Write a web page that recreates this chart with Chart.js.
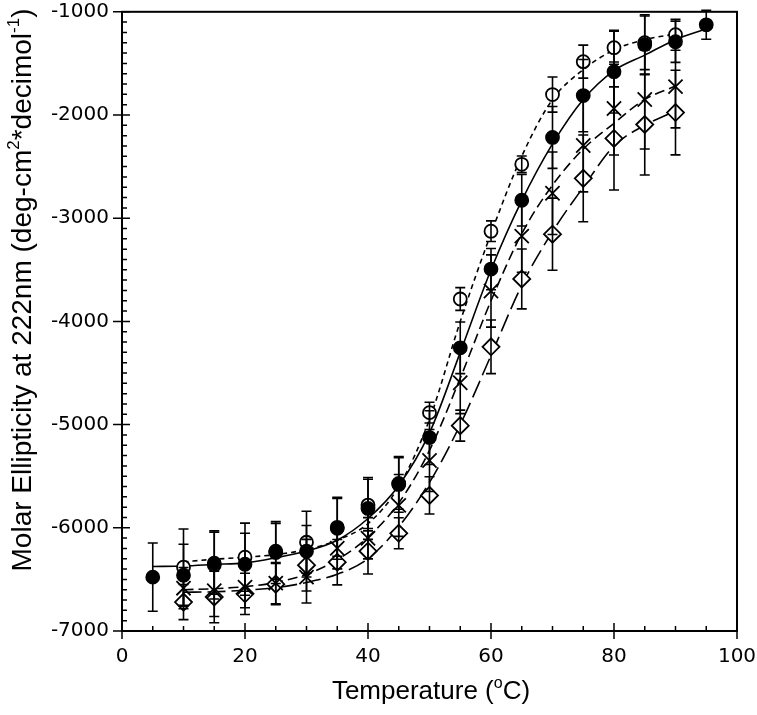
<!DOCTYPE html>
<html>
<head>
<meta charset="utf-8">
<script src="https://cdn.jsdelivr.net/npm/chart.js@4.4.1/dist/chart.umd.min.js"></script>
<style>
  html, body { margin: 0; padding: 0; background: #fff; }
</style>
</head>
<body>
<canvas id="myChart" width="757" height="715"></canvas>
<script>
// measured points (temperature in C, ellipticity, error)
const tempsFilled = [5, 10, 15, 20, 25, 30, 35, 40, 45, 50, 55, 60, 65, 70, 75, 80, 85, 90, 95];
const filledVals = [-6478, -6459, -6343, -6353, -6227, -6227, -6005, -5812, -5580, -5126, -4256, -3493, -2826, -2217, -1812, -1580, -1319, -1290, -1126];
const filledErr = [330, 300, 300, 300, 270, 250, 300, 300, 270, 260, 250, 200, 250, 300, 350, 400, 290, 200, 140];

const tempsOther = [10, 15, 20, 25, 30, 35, 40, 45, 50, 55, 60, 65, 70, 75, 80, 85, 90];
const openVals = [-6382, -6360, -6285, -6240, -6140, -5995, -5780, -5570, -4884, -3783, -3126, -2478, -1802, -1483, -1348, -1300, -1222];
const openErr = [370, 330, 330, 300, 300, 280, 250, 250, 100, 110, 100, 80, 170, 160, 160, 260, 150];
const crossVals = [-6585, -6610, -6575, -6536, -6478, -6198, -6101, -5783, -5348, -4594, -3705, -3174, -2758, -2295, -1937, -1850, -1725];
const crossErr = [200, 250, 200, 200, 250, 200, 200, 300, 300, 300, 350, 350, 400, 450, 450, 480, 400];
const diamondVals = [-6720, -6670, -6640, -6546, -6362, -6333, -6227, -6053, -5686, -5010, -4246, -3589, -3155, -2614, -2227, -2092, -1976];
const diamondErr = [170, 250, 200, 200, 250, 220, 220, 150, 180, 150, 260, 290, 350, 420, 500, 490, 410];

// fitted curves, every 5 degrees
const fitFilled = [-6375, -6370, -6355, -6340, -6290, -6225, -6120, -5910, -5590, -5080, -4300, -3500, -2830, -2280, -1850, -1570, -1420, -1270, -1165];
const fitOpen = [-6330, -6305, -6285, -6260, -6210, -6120, -5960, -5600, -4950, -4000, -3150, -2400, -1850, -1560, -1370, -1270, -1215];
const fitCross = [-6600, -6590, -6570, -6530, -6450, -6310, -6090, -5760, -5250, -4550, -3800, -3150, -2680, -2330, -2080, -1850, -1720];
const fitDiamond = [-6625, -6620, -6605, -6580, -6530, -6450, -6300, -5990, -5560, -5000, -4330, -3650, -3130, -2700, -2300, -2100, -1960];

const xMin = 0, xMax = 100, xMajor = 20, xMinor = 5;
const yMin = -7000, yMax = -1000, yMajor = 1000, yMinor = 100;

const tickFont = { family: "'DejaVu Sans', Verdana, sans-serif", size: 20 };

function pts(xs, ys) {
    return xs.map((x, i) => ({ x: x, y: ys[i] }));
}

function fitLine(xs, ys, dash) {
    return {
        data: pts(xs, ys),
        showLine: true,
        borderColor: "#000",
        borderWidth: 1.6,
        borderDash: dash,
        pointRadius: 0,
        cubicInterpolationMode: "monotone",
        fill: false,
        order: 2
    };
}

function markers(xs, ys, errs, style, radius, bg) {
    return {
        data: pts(xs, ys),
        errors: errs,
        showLine: false,
        pointStyle: style,
        pointRadius: radius,
        pointBorderWidth: 1.8,
        pointBorderColor: "#000",
        pointBackgroundColor: bg,
        order: 1
    };
}

const errorBars = {
    id: "errorBars",
    afterDatasetsDraw(chart) {
        const ctx = chart.ctx;
        const y = chart.scales.y;
        ctx.save();
        ctx.strokeStyle = "#000";
        ctx.lineWidth = 1.6;
        chart.data.datasets.forEach((ds, di) => {
            if (!ds.errors) return;
            const meta = chart.getDatasetMeta(di);
            meta.data.forEach((pt, i) => {
                const v = ds.data[i].y;
                const e = ds.errors[i];
                const top = y.getPixelForValue(v + e);
                const bot = y.getPixelForValue(v - e);
                ctx.beginPath();
                ctx.moveTo(pt.x, top);
                ctx.lineTo(pt.x, bot);
                ctx.moveTo(pt.x - 5, top);
                ctx.lineTo(pt.x + 5, top);
                ctx.moveTo(pt.x - 5, bot);
                ctx.lineTo(pt.x + 5, bot);
                ctx.stroke();
            });
        });
        ctx.restore();
    }
};

function drawRich(ctx, parts, size) {
    let w = 0;
    parts.forEach(p => {
        ctx.font = Math.round(p.sup ? size * 0.6 : size) + "px 'Liberation Sans', Arial, sans-serif";
        p.w = ctx.measureText(p.t).width;
        w += p.w;
    });
    let cx = -w / 2;
    parts.forEach(p => {
        ctx.font = Math.round(p.sup ? size * 0.6 : size) + "px 'Liberation Sans', Arial, sans-serif";
        ctx.fillText(p.t, cx, p.sup ? -size * 0.42 : 0);
        cx += p.w;
    });
}

const frame = {
    id: "frame",
    afterDraw(chart) {
        const { ctx, chartArea: a, scales: { x, y } } = chart;
        ctx.save();
        ctx.strokeStyle = "#000";
        ctx.lineWidth = 2;
        ctx.strokeRect(a.left, a.top, a.right - a.left, a.bottom - a.top);
        ctx.lineWidth = 1.5;
        ctx.beginPath();
        for (let v = xMin; v <= xMax; v += xMinor) {
            const px = x.getPixelForValue(v);
            const major = v % xMajor === 0;
            ctx.moveTo(px, a.bottom + (major ? 8 : 0));
            ctx.lineTo(px, a.bottom - (major ? 8 : 5));
        }
        for (let v = yMin; v <= yMax; v += yMinor) {
            const py = y.getPixelForValue(v);
            const major = v % yMajor === 0;
            ctx.moveTo(a.left - (major ? 9 : 0), py);
            ctx.lineTo(a.left + (major ? 8 : 5), py);
        }
        ctx.stroke();

        ctx.fillStyle = "#000";
        ctx.textBaseline = "alphabetic";
        ctx.save();
        ctx.translate(431, 699);
        drawRich(ctx, [{ t: "Temperature (" }, { t: "o", sup: true }, { t: "C)" }], 26);
        ctx.restore();

        ctx.save();
        ctx.translate(31, 290);
        ctx.rotate(-Math.PI / 2);
        drawRich(ctx, [
            { t: "Molar Ellipticity at 222nm (deg-cm" }, { t: "2", sup: true },
            { t: "*decimol" }, { t: "-1", sup: true }, { t: ")" }
        ], 28);
        ctx.restore();
        ctx.restore();
    }
};

const ctx = document.getElementById("myChart").getContext("2d");
const myChart = new Chart(ctx, {
    type: "line",
    data: {
        datasets: [
            fitLine(tempsFilled, fitFilled, []),
            fitLine(tempsOther, fitOpen, [5, 4]),
            fitLine(tempsOther, fitCross, [10, 5]),
            fitLine(tempsOther, fitDiamond, [18, 6]),
            markers(tempsFilled, filledVals, filledErr, "circle", 6.5, "#000"),
            markers(tempsOther, openVals, openErr, "circle", 6.5, "#fff"),
            markers(tempsOther, crossVals, crossErr, "crossRot", 10, "#000"),
            markers(tempsOther, diamondVals, diamondErr, "rectRot", 8.5, "#fff")
        ]
    },
    options: {
        responsive: false,
        animation: false,
        layout: { padding: { left: 0, right: 20, top: 10, bottom: 0 } },
        plugins: { legend: { display: false }, tooltip: { enabled: false } },
        scales: {
            x: {
                type: "linear",
                min: xMin,
                max: xMax,
                grid: { display: false, drawTicks: false },
                border: { display: false },
                ticks: {
                    stepSize: xMajor,
                    padding: 14,
                    color: "#000",
                    font: tickFont,
                    callback: v => String(v)
                },
                afterFit(scale) {
                    scale.height = 84;
                    scale.paddingLeft = 0;
                    scale.paddingRight = 0;
                }
            },
            y: {
                type: "linear",
                min: yMin,
                max: yMax,
                grid: { display: false, drawTicks: false },
                border: { display: false },
                ticks: {
                    stepSize: yMajor,
                    padding: 13,
                    color: "#000",
                    font: tickFont,
                    callback: v => String(v)
                },
                afterFit(scale) {
                    scale.width = 122;
                    scale.paddingTop = 0;
                    scale.paddingBottom = 0;
                }
            }
        }
    },
    plugins: [errorBars, frame]
});
</script>
</body>
</html>
